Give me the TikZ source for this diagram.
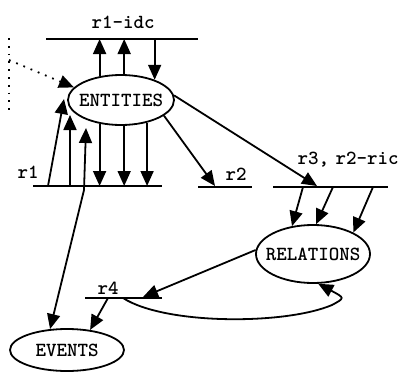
\documentclass[tikz,border=0pt]{standalone}
\usetikzlibrary{arrows.meta,shapes.geometric}
\begin{document}
\begin{tikzpicture}[x=1pt,y=-1pt,
  tip/.tip={Triangle[length=15pt,width=13pt]},
  arr/.style={line width=1.8pt,-tip},
  bar/.style={line width=2.2pt},
  ell/.style={draw,line width=1.8pt,ellipse,inner sep=0pt},
  lbl/.style={font=\fontsize{20}{20}\selectfont\ttfamily\bfseries,inner sep=0pt},
  dots/.style={line width=1.8pt,dash pattern=on 1.8pt off 6pt}]
\useasboundingbox (0,0) rectangle (399,372);
% ellipses
\node[ell,minimum width=106pt,minimum height=50pt,label={[lbl]center:ENTITIES}] (ent) at (121,100) {};
\node[ell,minimum width=114pt,minimum height=58pt,label={[lbl]center:RELATIONS}] (rel) at (313,254) {};
\node[ell,minimum width=114pt,minimum height=42pt,label={[lbl]center:EVENTS}] (ev) at (67,350) {};
% bars
\coordinate (tbL) at (46,39); \coordinate (tbR) at (198,39);
\coordinate (bbL) at (33,186); \coordinate (bbR) at (162,186);
\coordinate (r2L) at (198,187); \coordinate (r2R) at (252,187);
\coordinate (r3L) at (273,187); \coordinate (r3R) at (388,187);
\coordinate (r4L) at (85,298); \coordinate (r4R) at (162,298);
\draw[bar] (tbL) -- (tbR);
\draw[bar] (bbL) -- (bbR);
\draw[bar] (r2L) -- (r2R);
\draw[bar] (r3L) -- (r3R);
\draw[bar] (r4L) -- (r4R);
% labels
\node[lbl] (lidc) at (123,22) {r1-idc};
\node[lbl] (lr1) at (28,172) {r1};
\node[lbl] (lr2) at (236,174) {r2};
\node[lbl] (lr3) at (348,160) {r3,\hspace{-4pt} r2-ric};
\node[lbl] (lr4) at (108,288) {r4};
% dotted
\coordinate (d1) at (9,38); \coordinate (d2) at (9,110); \coordinate (d3) at (9,60);
\draw[dots] (d1) -- (d2);
\draw[dots,-tip] (d3) -- (ent.165);
% top bar arrows
\draw[arr] (ent.132) -- (ent.132 |- tbL);
\draw[arr] (ent.83) -- (ent.83 |- tbL);
\draw[arr] (tbL -| ent.31) -- (ent.31);
% bottom bar arrows
\draw[arr] (ent.-132) -- (ent.-132 |- bbL);
\draw[arr] (ent.-83) -- (ent.-83 |- bbL);
\draw[arr] (ent.-41) -- (ent.-41 |- bbL);
\coordinate (u1) at (48,186); \coordinate (u1t) at (64,99);
\coordinate (u2) at (70,186); \coordinate (u2t) at (70,115);
\coordinate (u3) at (84,190); \coordinate (u3t) at (86,128);
\draw[arr] (u1) -- (u1t);
\draw[arr] (u2) -- (u2t);
\draw[line width=1.8pt,tip-tip] (ev.129) -- (u3) -- (u3t);
% to r2, r3
\coordinate (r2t) at (215,186);
\coordinate (r3t) at (317,186);
\draw[arr] (ent.-20) -- (r2t);
\draw[arr] (ent.5) -- (r3t);
% r3 bar to relations
\coordinate (a1) at (303,187); \coordinate (a2) at (333,187); \coordinate (a3) at (373,187);
\draw[arr] (a1) -- (rel.127);
\draw[arr] (a2) -- (rel.84);
\draw[arr] (a3) -- (rel.28);
% relations to r4
\coordinate (r4t) at (143,297);
\draw[arr] (rel.176) -- (r4t);
\coordinate (r4c) at (123,298);
\draw[arr] (r4c) .. controls (165,325) and (285,325) .. (332,305) .. controls (345,298) .. (rel.-80);
% r4 to events
\coordinate (r4a) at (108,298);
\draw[arr] (r4a) -- (ev.41);
\end{tikzpicture}
\end{document}
